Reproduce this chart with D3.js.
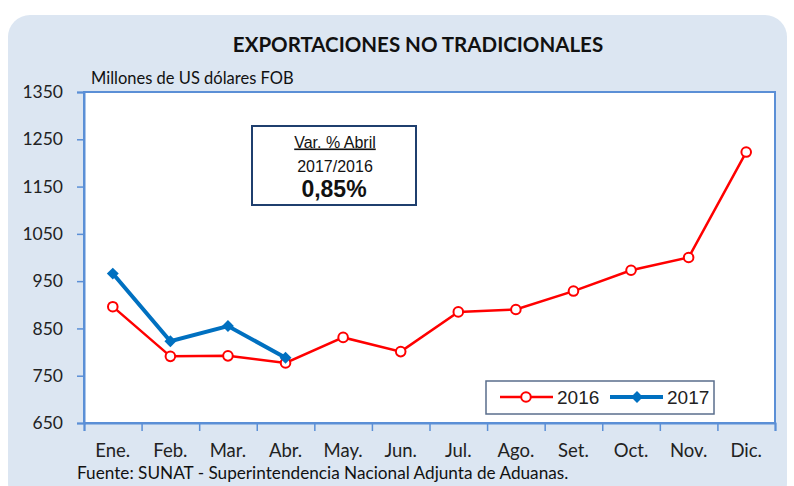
<!DOCTYPE html>
<html>
<head>
<meta charset="utf-8">
<script src="https://cdn.jsdelivr.net/npm/d3@7"></script>
<style>
  body { margin: 0; background: #fff; }
  svg { display: block; }
</style>
</head>
<body>
<div id="chart"></div>
<script>
// data
let months = ["Ene.", "Feb.", "Mar.", "Abr.", "May.", "Jun.", "Jul.", "Ago.", "Set.", "Oct.", "Nov.", "Dic."];
let values2016 = [896, 791, 792, 777, 831, 801, 885, 890, 929, 973, 1000, 1223];
let values2017 = [966, 823, 855, 788];
let yTicks = [650, 750, 850, 950, 1050, 1150, 1250, 1350];

let W = 794, H = 486;
let plot = {left: 84, top: 92, right: 775, bottom: 423};
let fontC = "Lato, 'Open Sans', sans-serif";
let fontA = "'Liberation Sans', Arial, sans-serif";

let svg = d3.select("#chart").append("svg")
    .attr("width", W).attr("height", H);

// panel background
svg.append("rect")
    .attr("x", 8).attr("y", 15)
    .attr("width", 779).attr("height", 490)
    .attr("rx", 22).attr("ry", 22)
    .attr("fill", "#dce6f2");

svg.append("text")
    .attr("x", 418).attr("y", 52)
    .attr("text-anchor", "middle")
    .attr("font-family", fontC).attr("font-weight", "bold")
    .attr("font-size", 20.5).attr("fill", "#111")
    .text("EXPORTACIONES NO TRADICIONALES");

svg.append("text")
    .attr("x", 91).attr("y", 84)
    .attr("font-family", fontC).attr("font-size", 16.5).attr("fill", "#111")
    .text("Millones de US dólares FOB");

// plot area
svg.append("rect")
    .attr("x", plot.left).attr("y", plot.top)
    .attr("width", plot.right - plot.left).attr("height", plot.bottom - plot.top)
    .attr("fill", "#fff")
    .attr("stroke", "#5b8fd6").attr("stroke-width", 2);

let xScale = d3.scaleBand().domain(months).range([plot.left, plot.right]);
let xEdges = d3.scaleLinear().domain([0, months.length]).range([plot.left, plot.right]);
let yScale = d3.scaleLinear().domain([650, 1350]).range([plot.bottom, plot.top]);

// y axis
let yAxis_g = svg.append("g")
    .attr("transform", "translate(" + plot.left + ",0)")
    .call(d3.axisLeft(yScale).tickValues(yTicks).tickFormat(d3.format("d")).tickSize(7).tickPadding(14));
yAxis_g.select(".domain").attr("stroke", "#5b8fd6").attr("stroke-width", 2);
yAxis_g.selectAll(".tick line").attr("stroke", "#5b8fd6").attr("stroke-width", 1.5);
yAxis_g.selectAll(".tick text")
    .attr("font-family", fontC).attr("font-size", 17.5).attr("fill", "#222");

// x axis: boundary ticks
let xTicks_g = svg.append("g")
    .attr("transform", "translate(0," + plot.bottom + ")")
    .call(d3.axisBottom(xEdges).tickValues(d3.range(months.length + 1)).tickFormat("").tickSize(8));
xTicks_g.select(".domain").attr("stroke", "#5b8fd6").attr("stroke-width", 2);
xTicks_g.selectAll(".tick line").attr("stroke", "#5b8fd6").attr("stroke-width", 1.5);

// x axis: month labels
let xAxis_g = svg.append("g")
    .attr("transform", "translate(0," + plot.bottom + ")")
    .call(d3.axisBottom(xScale).tickSize(0).tickPadding(21));
xAxis_g.select(".domain").remove();
xAxis_g.selectAll(".tick text")
    .attr("font-family", fontC).attr("font-size", 18.5).attr("fill", "#222");

let cx = function(d, i) { return xScale(months[i]) + xScale.bandwidth() / 2; };
let line = d3.line().x(cx).y(function(d) { return yScale(d); });

// 2016
svg.append("path").datum(values2016)
    .attr("d", line).attr("fill", "none")
    .attr("stroke", "#ff0000").attr("stroke-width", 2.5);
svg.selectAll(".m2016").data(values2016).enter()
    .append("circle").attr("class", "m2016")
    .attr("cx", cx).attr("cy", function(d) { return yScale(d); })
    .attr("r", 4.8).attr("fill", "#fff")
    .attr("stroke", "#ff0000").attr("stroke-width", 2);

// 2017
let diamond = d3.symbol().type(d3.symbolDiamond2).size(90);
svg.append("path").datum(values2017)
    .attr("d", line).attr("fill", "none")
    .attr("stroke", "#0070c0").attr("stroke-width", 4);
svg.selectAll(".m2017").data(values2017).enter()
    .append("path").attr("class", "m2017")
    .attr("transform", function(d, i) { return "translate(" + cx(d, i) + "," + yScale(d) + ")"; })
    .attr("d", diamond).attr("fill", "#0070c0");

// annotation box
let note = svg.append("g");
note.append("rect")
    .attr("x", 252).attr("y", 126).attr("width", 164).attr("height", 79)
    .attr("fill", "#fff").attr("stroke", "#1f3f6e").attr("stroke-width", 2);
note.append("text")
    .attr("x", 335).attr("y", 147.5).attr("text-anchor", "middle")
    .attr("font-family", fontA).attr("font-size", 16).attr("fill", "#111")
    .attr("text-decoration", "underline")
    .text("Var. % Abril");
note.append("text")
    .attr("x", 335).attr("y", 171.5).attr("text-anchor", "middle")
    .attr("font-family", fontA).attr("font-size", 16).attr("fill", "#111")
    .text("2017/2016");
note.append("text")
    .attr("x", 334).attr("y", 197).attr("text-anchor", "middle")
    .attr("font-family", fontA).attr("font-size", 23).attr("font-weight", "bold").attr("fill", "#111")
    .text("0,85%");

// legend
let legend = svg.append("g");
legend.append("rect")
    .attr("x", 486).attr("y", 381).attr("width", 228).attr("height", 33)
    .attr("fill", "#fff").attr("stroke", "#5a6e8c").attr("stroke-width", 1.5);
legend.append("line")
    .attr("x1", 500).attr("x2", 553).attr("y1", 397).attr("y2", 397)
    .attr("stroke", "#ff0000").attr("stroke-width", 2.5);
legend.append("circle")
    .attr("cx", 526).attr("cy", 397).attr("r", 4.8)
    .attr("fill", "#fff").attr("stroke", "#ff0000").attr("stroke-width", 2);
legend.append("text")
    .attr("x", 557).attr("y", 404)
    .attr("font-family", fontA).attr("font-size", 19).attr("fill", "#222")
    .text("2016");
legend.append("line")
    .attr("x1", 610).attr("x2", 663).attr("y1", 397).attr("y2", 397)
    .attr("stroke", "#0070c0").attr("stroke-width", 4);
legend.append("path")
    .attr("transform", "translate(637,397)")
    .attr("d", diamond).attr("fill", "#0070c0");
legend.append("text")
    .attr("x", 667).attr("y", 404)
    .attr("font-family", fontA).attr("font-size", 19).attr("fill", "#222")
    .text("2017");

svg.append("text")
    .attr("x", 77).attr("y", 479)
    .attr("font-family", fontC).attr("font-size", 17.2).attr("fill", "#111")
    .text("Fuente: SUNAT - Superintendencia Nacional Adjunta de Aduanas.");
</script>
</body>
</html>
